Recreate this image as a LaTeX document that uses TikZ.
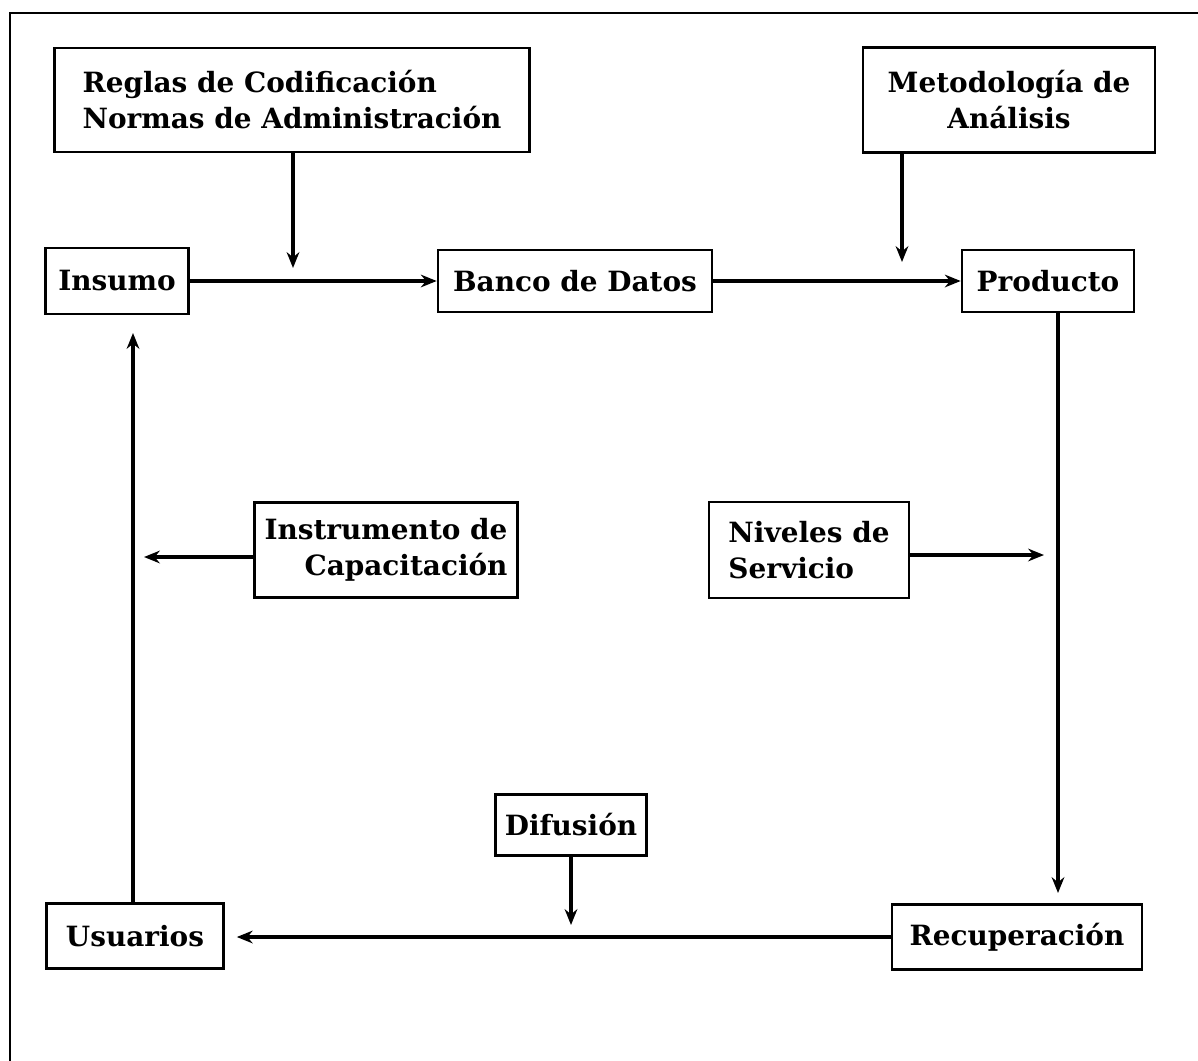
\documentclass[tikz,border=0pt]{standalone}
\usepackage{fontspec}
\usetikzlibrary{arrows.meta}
\setmainfont{DejaVu Serif}
\begin{document}
\begin{tikzpicture}[x=0.013356cm,y=-0.013356cm]
			\def\u{0.013356cm}
			\def\fs{10.6}
			\tikzset{s/.style={draw,line width=1pt,rectangle,inner sep=0pt,font=\bfseries\fontsize{\fs}{13.7}\selectfont},
				f/.style={line width=1.2pt,-{Stealth[length=6pt,width=4.8pt]}}}
			\useasboundingbox(0,0)rectangle(1198,1061);
			%%Marco
			\draw[line width=1pt](10,1061)--(10,13)--(1198,13);
			%%Nodos fila superior
			\path(292,100)node[s,minimum width=475*\u,minimum height=104*\u,align=left](R){Reglas de Codificación\\Normas de Administración};
			\path(1009,100)node[s,minimum width=292*\u,minimum height=105*\u,align=center](M){Metodología de\\Análisis};
			\path(117,281)node[s,minimum width=143*\u,minimum height=66*\u](I){Insumo};
			\path(575,281)node[s,minimum width=274*\u,minimum height=62*\u](B){Banco de Datos};
			\path(1048,281)node[s,minimum width=172*\u,minimum height=62*\u](P){Producto};
			%%Nodos centrales
			\path(386,550)node[s,minimum width=263*\u,minimum height=95*\u,align=right](C){Instrumento de\\Capacitación};
			\path(809,550)node[s,minimum width=200*\u,minimum height=96*\u,align=left](N){Niveles de\\Servicio};
			%%Nodos fila inferior
			\path(571,825)node[s,minimum width=151*\u,minimum height=61*\u](D){Difusión};
			\path(135,936)node[s,minimum width=177*\u,minimum height=65*\u](U){Usuarios};
			\path(1017,937)node[s,minimum width=250*\u,minimum height=65*\u](Rc){Recuperación};
			%%Puntos libres
			\coordinate(r1)at(293,268);
			\coordinate(m1)at(902,262);
			\coordinate(u1)at(133,333);
			\coordinate(c1)at(144,557);
			\coordinate(n1)at(1044,555);
			\coordinate(d1)at(571,925);
			\coordinate(p1)at(1058,893);
			\foreach \x/\y in {
				I/B,B/P}
			\draw[f](\x.east)--(\x.east-|\y.west);
			\draw[f](Rc.west)--([xshift=12*\u]Rc.west-|U.east);
			\draw[f](R.south-|r1)--(r1);
			\draw[f](M.south-|m1)--(m1);
			\draw[f](P.south-|p1)--(p1);
			\draw[f](D.south)--(d1);
			\draw[f](U.north-|u1)--(u1);
			\draw[f](C.west|-c1)--(c1);
			\draw[f](N.east|-n1)--(n1);
		\end{tikzpicture}
\end{document}
